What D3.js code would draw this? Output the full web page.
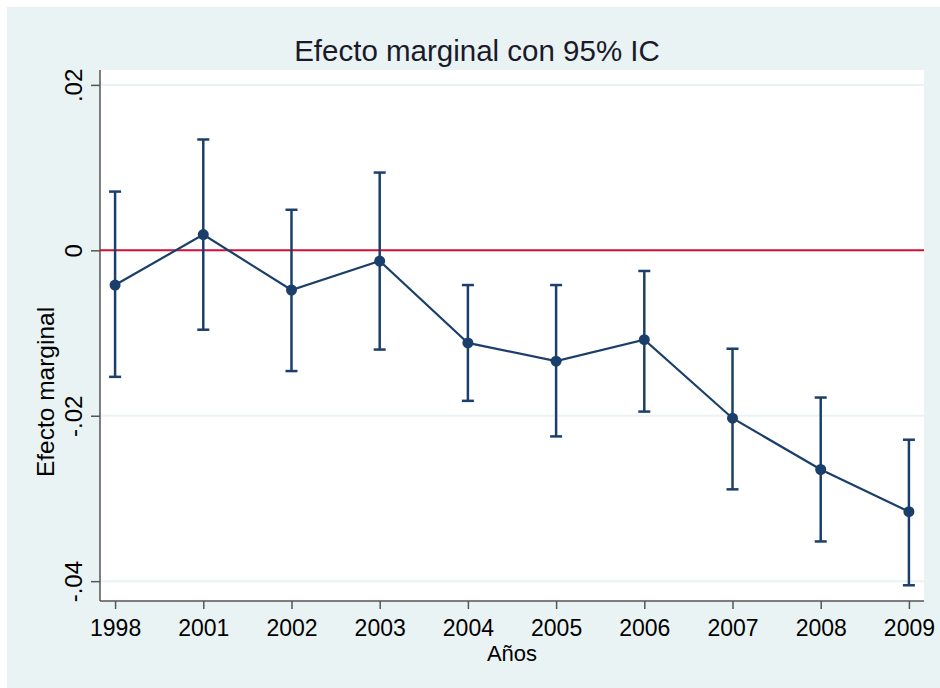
<!DOCTYPE html>
<meta charset="utf-8">
<script src="https://d3js.org/d3.v7.min.js"></script>
<style>
  body { margin: 0; background: #fff; }
  text { font-family: Arial, "Liberation Sans", sans-serif; fill: #000; }
</style>
<div id="chart"></div>
<script>

// data
var years = ["1998", "2001", "2002", "2003", "2004", "2005", "2006", "2007", "2008", "2009"];
var effect = [-0.0042, 0.0019, -0.0048, -0.0013, -0.0112, -0.0134, -0.0108, -0.0203, -0.0265, -0.0316];
var upper = [0.0071, 0.0134, 0.0049, 0.0094, -0.0042, -0.0042, -0.0025, -0.0119, -0.0178, -0.0229];
var lower = [-0.0153, -0.0096, -0.0146, -0.0120, -0.0182, -0.0225, -0.0195, -0.0289, -0.0352, -0.0405];
var yTicks = [-0.04, -0.02, 0, 0.02];
var yTickLabels = ["-.04", "-.02", "0", ".02"];

var width = 940, height = 688;
var plotLeft = 100, plotRight = 924, plotTop = 70, plotBottom = 601;

var rows = years.map(function(y, i) {
  return { year: y, b: effect[i], hi: upper[i], lo: lower[i] };
});

var svg = d3.select("#chart").append("svg")
  .attr("width", width)
  .attr("height", height);

// graph region background
svg.append("rect")
  .attr("x", 7).attr("y", 7)
  .attr("width", width - 7).attr("height", height - 7)
  .attr("fill", "#eaf3f3");

// plot region
svg.append("rect")
  .attr("x", plotLeft).attr("y", plotTop)
  .attr("width", plotRight - plotLeft).attr("height", plotBottom - plotTop)
  .attr("fill", "#fff");

var x = d3.scalePoint()
  .domain(years)
  .range([plotLeft, plotRight])
  .padding(0.171);

var y = d3.scaleLinear()
  .domain([-0.0424, 0.0218])
  .range([plotBottom, plotTop]);

// gridlines
svg.append("g")
  .selectAll("line")
  .data(yTicks)
  .enter()
  .append("line")
    .attr("x1", plotLeft).attr("x2", plotRight)
    .attr("y1", function(d){ return y(d) })
    .attr("y2", function(d){ return y(d) })
    .attr("stroke", "#eaf3f3")
    .attr("stroke-width", 2);

// y axis
var yAxis = svg.append("g")
  .attr("transform", "translate(" + plotLeft + ",0)")
  .call(d3.axisLeft(y)
    .tickValues(yTicks)
    .tickSize(9)
    .tickFormat(function(d, i){ return yTickLabels[i] }));
yAxis.select(".domain").attr("stroke", "#555").attr("stroke-width", 1.5)
  .attr("d", "M0," + plotTop + "V" + plotBottom);
yAxis.selectAll(".tick line").attr("stroke", "#555").attr("stroke-width", 1.5);
yAxis.selectAll(".tick text")
  .attr("x", null).attr("dy", null)
  .attr("transform", "translate(-18,0) rotate(-90)")
  .attr("text-anchor", "middle")
  .style("font-size", "24px");

// x axis
var xAxis = svg.append("g")
  .attr("transform", "translate(0," + plotBottom + ")")
  .call(d3.axisBottom(x).tickSize(8));
xAxis.select(".domain").attr("stroke", "#555").attr("stroke-width", 1.5)
  .attr("d", "M" + plotLeft + ",0H" + plotRight);
xAxis.selectAll(".tick line").attr("stroke", "#555").attr("stroke-width", 1.5);
xAxis.selectAll(".tick text")
  .attr("y", 35).attr("dy", null)
  .style("font-size", "23px");

// reference line at zero
svg.append("line")
  .attr("x1", plotLeft).attr("x2", plotRight)
  .attr("y1", y(0)).attr("y2", y(0))
  .attr("stroke", "#d2103c")
  .attr("stroke-width", 2);

var navy = "#1a3f6a";

// confidence intervals
var ci = svg.append("g").attr("stroke", navy).attr("stroke-width", 2.5);
ci.selectAll(".bar").data(rows).enter().append("line")
  .attr("x1", function(d){ return x(d.year) })
  .attr("x2", function(d){ return x(d.year) })
  .attr("y1", function(d){ return y(d.hi) })
  .attr("y2", function(d){ return y(d.lo) });
ci.selectAll(".capHi").data(rows).enter().append("line")
  .attr("x1", function(d){ return x(d.year) - 6 })
  .attr("x2", function(d){ return x(d.year) + 6 })
  .attr("y1", function(d){ return y(d.hi) })
  .attr("y2", function(d){ return y(d.hi) });
ci.selectAll(".capLo").data(rows).enter().append("line")
  .attr("x1", function(d){ return x(d.year) - 6 })
  .attr("x2", function(d){ return x(d.year) + 6 })
  .attr("y1", function(d){ return y(d.lo) })
  .attr("y2", function(d){ return y(d.lo) });

// connected estimates
svg.append("path")
  .datum(rows)
  .attr("fill", "none")
  .attr("stroke", navy)
  .attr("stroke-width", 2.2)
  .attr("d", d3.line()
    .x(function(d){ return x(d.year) })
    .y(function(d){ return y(d.b) }));

svg.selectAll(".pt").data(rows).enter().append("circle")
  .attr("cx", function(d){ return x(d.year) })
  .attr("cy", function(d){ return y(d.b) })
  .attr("r", 5.5)
  .attr("fill", navy);

// titles
svg.append("text")
  .attr("x", 477).attr("y", 61)
  .attr("text-anchor", "middle")
  .style("font-size", "29.5px")
  .style("fill", "#1a1a2a")
  .text("Efecto marginal con 95% IC");

svg.append("text")
  .attr("x", (plotLeft + plotRight) / 2).attr("y", 661)
  .attr("text-anchor", "middle")
  .style("font-size", "22px")
  .text("Años");

svg.append("text")
  .attr("transform", "translate(54,392) rotate(-90)")
  .attr("text-anchor", "middle")
  .style("font-size", "24.5px")
  .text("Efecto marginal");

</script>
